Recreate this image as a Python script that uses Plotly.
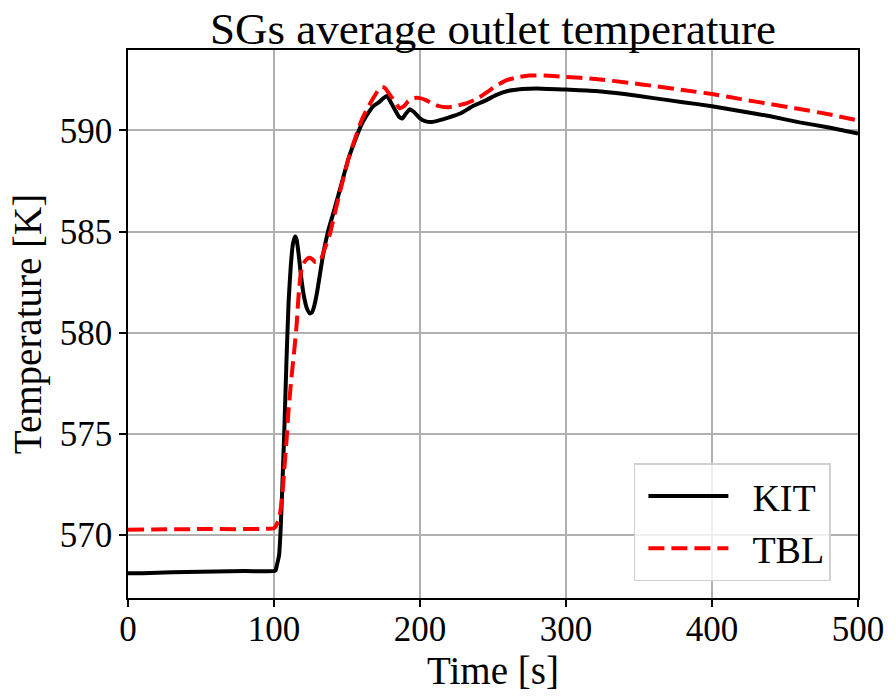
import plotly.graph_objects as go

# KIT series (time [s], temperature [K])
kit_t = [0, 10, 20, 40, 60, 80, 100, 101, 102, 103.5, 104.5, 105.5, 107, 108.5, 110, 111.5,
         113, 114.5, 115.5, 117, 118.5, 120.5, 122.5, 124.5, 126, 127.5, 129.5, 131.5, 134, 137,
         141, 146, 151, 156, 160, 164, 168, 172, 175, 177.5, 180, 183, 186, 188, 190, 193, 196,
         200, 204, 208, 213, 220, 228, 236, 244, 252, 260, 270, 280, 300, 320, 340, 360, 380,
         400, 420, 440, 460, 480, 500]
kit_T = [568.10, 568.10, 568.12, 568.16, 568.18, 568.20, 568.20, 568.22, 568.5, 569.0, 570.2,
         572.0, 575.0, 578.5, 581.5, 583.3, 584.4, 584.75, 584.6, 583.8, 582.8, 581.8, 581.2,
         580.95, 581.0, 581.3, 582.0, 582.9, 584.0, 585.0, 586.0, 587.3, 588.6, 589.6, 590.3,
         590.8, 591.2, 591.4, 591.6, 591.7, 591.4, 591.0, 590.65, 590.6, 590.8, 591.05, 590.9,
         590.6, 590.45, 590.42, 590.5, 590.65, 590.85, 591.2, 591.45, 591.75, 591.95, 592.05,
         592.08, 592.02, 591.95, 591.8, 591.6, 591.4, 591.2, 590.95, 590.7, 590.4, 590.15,
         589.85]

# TBL series
tbl_t = [0, 50, 100, 101, 103.5, 105.5, 107, 108.5, 110, 112, 114, 115.5, 117, 118.5, 120,
         122, 124, 126, 128, 130, 132, 135, 138, 141, 146, 151, 156, 160, 164, 168, 171, 174,
         176, 179, 183, 186, 189, 192, 196, 200, 204, 208, 213, 218, 224, 232, 240, 247, 253,
         260, 268, 275, 285, 300, 320, 344, 360, 380, 400, 420, 440, 457, 480, 500]
tbl_T = [570.25, 570.28, 570.32, 570.4, 570.8, 571.8, 573.2, 574.6, 576.2, 577.8, 579.2,
         580.4, 582.0, 583.0, 583.4, 583.6, 583.7, 583.65, 583.5, 583.5, 583.6, 584.2, 584.8,
         585.7, 587.2, 588.6, 589.7, 590.5, 591.1, 591.6, 591.95, 592.15, 592.1, 591.8, 591.4,
         591.1, 591.2, 591.45, 591.6, 591.6, 591.5, 591.35, 591.2, 591.15, 591.2, 591.35,
         591.6, 591.95, 592.25, 592.5, 592.65, 592.72, 592.72, 592.65, 592.55, 592.35, 592.2,
         592.0, 591.8, 591.55, 591.3, 591.1, 590.8, 590.5]

x_ticks = [0, 100, 200, 300, 400, 500]
y_ticks = [570, 575, 580, 585, 590]

FONT = "Liberation Serif"
PAD = "\u00a0\u00a0"

fig = go.Figure()
fig.add_trace(go.Scatter(x=kit_t, y=kit_T, mode="lines", name=PAD + "KIT",
                         line=dict(color="black", width=4, shape="spline", smoothing=0.5)))
fig.add_trace(go.Scatter(x=tbl_t, y=tbl_T, mode="lines", name=PAD + "TBL",
                         line=dict(color="#ff0000", width=4, dash="16px,7px",
                                   shape="spline", smoothing=0.5)))

axis_common = dict(showline=True, linecolor="black", linewidth=1.5, mirror=True,
                   ticks="outside", ticklen=7, tickwidth=1.5, tickcolor="black",
                   showgrid=True, gridcolor="#b0b0b0", gridwidth=1.5, zeroline=False,
                   tickfont=dict(family=FONT, size=35, color="black"))

fig.update_layout(
    width=896, height=697,
    margin=dict(l=128, r=33, t=50, b=99),
    paper_bgcolor="white", plot_bgcolor="white",
    title=dict(text="SGs average outlet temperature", x=0.5, xref="paper",
               y=1 - 28 / 697, yref="container", yanchor="middle", xanchor="center",
               font=dict(family=FONT, size=45, color="black")),
    xaxis=dict(range=[0, 500], tickvals=x_ticks, ticktext=[str(v) for v in x_ticks],
               ticklabelstandoff=-8,
               title=dict(text="Time [s]", font=dict(family=FONT, size=39, color="black"),
                          standoff=2),
               **axis_common),
    yaxis=dict(range=[566.87, 593.98], tickvals=y_ticks, ticktext=[str(v) for v in y_ticks],
               title=dict(text="Temperature [K]", font=dict(family=FONT, size=39, color="black"),
                          standoff=6),
               **axis_common),
    legend=dict(x=0.693, y=0.246, xanchor="left", yanchor="top",
                bgcolor="rgba(255,255,255,0.8)", bordercolor="#d0d0d0", borderwidth=1.5,
                font=dict(family=FONT, size=38, color="black"),
                indentation=8, itemwidth=80, entrywidth=174, entrywidthmode="pixels"),
    showlegend=True,
)

fig.write_html("out.html", post_script="document.body.style.margin='0';",
               config={"displayModeBar": False})
